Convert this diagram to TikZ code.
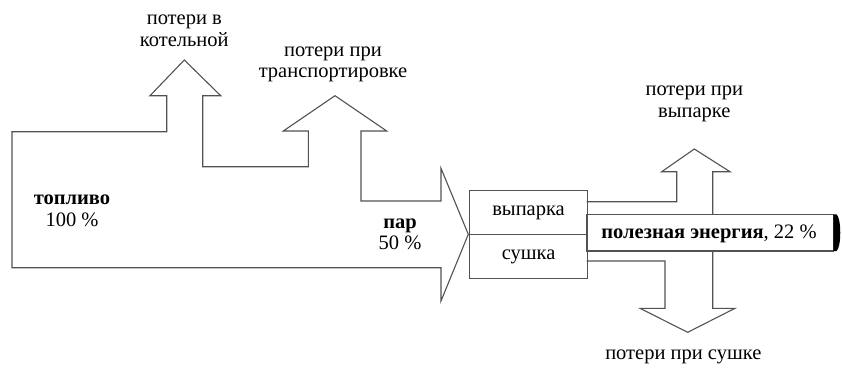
\documentclass[tikz,border=0pt]{standalone}
\usepackage{fontspec}
\setmainfont{Liberation Serif}
\begin{document}
\begin{tikzpicture}[x=1pt,y=-1pt,
  flow/.style={draw=black!68,line width=1.1pt,line join=miter},
  lbl/.style={align=center,font=\fontsize{20.5}{21.7}\selectfont,inner sep=0pt},
  boxnode/.style={draw=black!68,line width=1.1pt,minimum width=117.4pt,minimum height=44pt,inner sep=0pt,anchor=north west,font=\fontsize{20.5}{21.7}\selectfont}]
\useasboundingbox (0,0) rectangle (842,367);
% main flow
\draw[flow] (12,131.7) -- (166.7,131.7) -- (166.7,95.7) -- (150,95.7) -- (184.3,60) -- (220.7,95.7) -- (202.7,95.7) -- (202.7,166.7) -- (308.3,166.7) -- (308.3,131) -- (283.3,131) -- (335,95.7) -- (386.7,131) -- (361,131) -- (361,201) -- (441,201) -- (441,168.3) -- (468.3,234.3) -- (441,301) -- (441,267.7) -- (12,267.7) -- cycle;
% boxes
\node[boxnode] (vyp) at (469.3,190) {выпарка};
\node[boxnode,minimum height=44pt] (sush) at (469.3,234.3) {сушка};
% upper loss
\draw[flow] (586.7,201.7) -- (676.7,201.7) -- (676.7,171.7) -- (661.7,171.7) -- (694.3,149) -- (730,171.7) -- (712.7,171.7) -- (712.7,214.3);
% lower loss
\draw[flow] (586.7,261) -- (665,261) -- (665,308.3) -- (640,308.3) -- (687.7,332.3) -- (735,308.3) -- (712.7,308.3) -- (712.7,251);
% useful energy bar
\draw[flow] (586.7,214.3) rectangle (833.3,251);
\fill[black] (833.3,214.3) -- (836.5,214.3) .. controls (841.5,218) and (841.5,247.5) .. (836.5,251) -- (833.3,251) -- cycle;
\node[lbl] (use) at (709,234.3) {\textbf{полезная энергия}, 22 \%};
% labels
\node[lbl] (tl) at (72,210.5) {\textbf{топливо}\\100 \%};
\node[lbl] (par) at (400,234.3) {\textbf{пар}\\50 \%};
\node[lbl] (pk) at (184.3,31) {потери в\\котельной};
\node[lbl] (pt) at (333,64.5) {потери при\\транспортировке};
\node[lbl] (pv) at (694.3,104) {потери при\\выпарке};
\node[lbl] (ps) at (683.3,356.7) {потери при сушке};
\end{tikzpicture}
\end{document}
